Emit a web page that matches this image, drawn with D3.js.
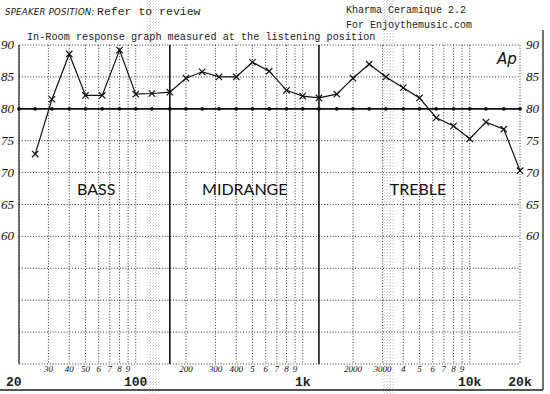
<!DOCTYPE html>
<html>
<head>
<meta charset="utf-8">
<script src="https://cdn.jsdelivr.net/npm/d3@7"></script>
<style>
  body { margin: 0; background: #fff; }
  svg { display: block; }
  .type { font-family: "Liberation Mono", "DejaVu Sans Mono", monospace; fill: #222; }
  .hand { font-family: "Liberation Serif", serif; font-style: italic; fill: #111; }
  .handsans { font-family: "DejaVu Sans", sans-serif; font-style: italic; fill: #111; }
  .section { font-family: "Lato", "Open Sans", sans-serif; fill: #111; }
</style>
</head>
<body>
<svg id="chart"></svg>
<script>
// 1/3-octave frequencies that were measured
const freqs = [25, 31.5, 40, 50, 63, 80, 100, 125, 160, 200, 250, 315, 400, 500, 630, 800,
  1000, 1250, 1600, 2000, 2500, 3150, 4000, 5000, 6300, 8000, 10000, 12500, 16000, 20000];
// measured level (dB)
const levels = [72.9, 81.5, 88.6, 82.1, 82.1, 89.2, 82.3, 82.4, 82.6, 84.8, 85.8, 85.0, 85.0,
  87.3, 85.9, 82.9, 82.0, 81.7, 82.3, 84.8, 87.0, 85.0, 83.3, 81.7, 78.6, 77.3, 75.3, 77.9, 76.8, 70.3];
// reference line
const refLevel = 80;
const refFreqs = [20].concat(freqs);

const gridFreqs = [20, 30, 40, 50, 60, 70, 80, 90, 100, 200, 300, 400, 500, 600, 700, 800, 900,
  1000, 2000, 3000, 4000, 5000, 6000, 7000, 8000, 9000, 10000, 20000];
const dbTicks = [40, 45, 50, 55, 60, 65, 70, 75, 80, 85, 90];
const dbLabels = [60, 65, 70, 75, 80, 85, 90];

// printed (bold) and hand written frequency labels
const bigLabels = [[20, "20"], [100, "100"], [1000, "1k"], [10000, "10k"], [20000, "20k"]];
const smallLabels = [[30, "30"], [40, "40"], [50, "50"], [60, "6"], [70, "7"], [80, "8"], [90, "9"],
  [200, "200"], [300, "300"], [400, "400"], [500, "5"], [600, "6"], [700, "7"], [800, "8"], [900, "9"],
  [2000, "2000"], [3000, "3000"], [4000, "4"], [5000, "5"], [6000, "6"], [7000, "7"], [8000, "8"], [9000, "9"]];

const sections = [[58, "BASS"], [450, "MIDRANGE"], [4900, "TREBLE"]];
const dividers = [160, 1250];

const width = 550;
const height = 394;
const svg = d3.select("#chart").attr("width", width).attr("height", height);

const x = d3.scaleLog().domain([20, 20000]).range([19, 520]);
const y = d3.scaleLinear().domain([40, 90]).range([364, 45]);

// scan speckle bands
const defs = svg.append("defs");
const pat = defs.append("pattern").attr("id", "speck")
  .attr("width", 3).attr("height", 3).attr("patternUnits", "userSpaceOnUse");
pat.append("rect").attr("width", 1).attr("height", 1).attr("fill", "#bbb");
pat.append("rect").attr("x", 2).attr("y", 1).attr("width", 1).attr("height", 1).attr("fill", "#ccc");
svg.append("rect").attr("x", 147).attr("y", 0).attr("width", 12).attr("height", height)
  .attr("fill", "url(#speck)").attr("opacity", 0.7);
svg.append("rect").attr("x", 383).attr("y", 0).attr("width", 11).attr("height", height)
  .attr("fill", "url(#speck)").attr("opacity", 0.7);

// paper edges
svg.append("line").attr("x1", 0).attr("x2", 543).attr("y1", 390).attr("y2", 390)
  .attr("stroke", "#555").attr("stroke-width", 2);
svg.append("line").attr("x1", 543).attr("x2", 543).attr("y1", 30).attr("y2", 390)
  .attr("stroke", "#444").attr("stroke-width", 1.5);

const g = svg.append("g");

// grid
g.selectAll(".vgrid").data(gridFreqs).enter().append("line")
  .attr("class", "vgrid")
  .attr("x1", (d) => x(d)).attr("x2", (d) => x(d))
  .attr("y1", y(90)).attr("y2", y(40))
  .attr("stroke", "#333").attr("stroke-width", 1)
  .attr("stroke-dasharray", "1,1.8");

g.selectAll(".hgrid").data(dbTicks).enter().append("line")
  .attr("class", "hgrid")
  .attr("x1", x(20)).attr("x2", x(20000))
  .attr("y1", (d) => y(d)).attr("y2", (d) => y(d))
  .attr("stroke", "#333").attr("stroke-width", 1)
  .attr("stroke-dasharray", "1,1.8");

g.append("line").attr("x1", x(20)).attr("x2", x(20)).attr("y1", y(90)).attr("y2", y(40))
  .attr("stroke", "#222").attr("stroke-width", 1.2);

// section dividers
g.selectAll(".divider").data(dividers).enter().append("line")
  .attr("x1", (d) => x(d)).attr("x2", (d) => x(d))
  .attr("y1", y(90)).attr("y2", y(40))
  .attr("stroke", "#111").attr("stroke-width", 1.6);

// reference line with dots
g.append("line").attr("x1", x(20)).attr("x2", x(20000))
  .attr("y1", y(refLevel)).attr("y2", y(refLevel))
  .attr("stroke", "#111").attr("stroke-width", 1.8);
g.selectAll(".refdot").data(refFreqs).enter().append("circle")
  .attr("cx", (d) => x(d)).attr("cy", y(refLevel)).attr("r", 1.9).attr("fill", "#111");

// response curve
const data = freqs.map((f, i) => ({ f: f, v: levels[i] }));
const line = d3.line().x((d) => x(d.f)).y((d) => y(d.v));
g.append("path").datum(data).attr("d", line)
  .attr("fill", "none").attr("stroke", "#111").attr("stroke-width", 1.2);
g.selectAll(".mark").data(data).enter().append("path")
  .attr("transform", (d) => `translate(${x(d.f)},${y(d.v)})`)
  .attr("d", d3.symbol().type(d3.symbolX).size(28))
  .attr("fill", "none").attr("stroke", "#111").attr("stroke-width", 1.2);

// y labels both sides
g.selectAll(".ylabL").data(dbLabels).enter().append("text")
  .attr("class", "hand")
  .attr("x", 14).attr("y", (d) => y(d) + 4)
  .attr("text-anchor", "end").attr("font-size", 13)
  .text((d) => d);
g.selectAll(".ylabR").data(dbLabels).enter().append("text")
  .attr("class", "hand")
  .attr("x", 526).attr("y", (d) => y(d) + 4)
  .attr("font-size", 13)
  .text((d) => d);

// x labels
g.selectAll(".xbig").data(bigLabels).enter().append("text")
  .attr("class", "type")
  .attr("x", (d) => x(d[0])).attr("y", 386)
  .attr("text-anchor", (d) => (d[0] === 20 ? "start" : "middle"))
  .attr("dx", (d) => (d[0] === 20 ? -13 : 0))
  .attr("font-size", 13).attr("font-weight", "bold")
  .text((d) => d[1]);
g.selectAll(".xsmall").data(smallLabels).enter().append("text")
  .attr("class", "hand")
  .attr("x", (d) => x(d[0])).attr("y", 372)
  .attr("text-anchor", "middle").attr("font-size", 9)
  .text((d) => d[1]);

// section names
g.selectAll(".section").data(sections).enter().append("text")
  .attr("class", "section")
  .attr("x", (d) => x(d[0])).attr("y", 195)
  .attr("text-anchor", "middle").attr("font-size", 16)
  .text((d) => d[1]);

// header texts
svg.append("text").attr("class", "handsans").attr("x", 5).attr("y", 15)
  .attr("font-size", 8.5).attr("letter-spacing", 0.3)
  .text("SPEAKER POSITION:");
svg.append("text").attr("class", "type").attr("x", 97).attr("y", 15)
  .attr("font-size", 11.5).text("Refer to review");
svg.append("text").attr("class", "type").attr("x", 346).attr("y", 13)
  .attr("font-size", 10).text("Kharma Ceramique 2.2");
svg.append("text").attr("class", "type").attr("x", 346).attr("y", 28)
  .attr("font-size", 10).text("For Enjoythemusic.com");
svg.append("text").attr("class", "type").attr("x", 27).attr("y", 40)
  .attr("font-size", 10.2).text("In-Room response graph measured at the listening position");
svg.append("text").attr("class", "handsans").attr("x", 497).attr("y", 64)
  .attr("font-size", 15).text("Ap");
</script>
</body>
</html>
